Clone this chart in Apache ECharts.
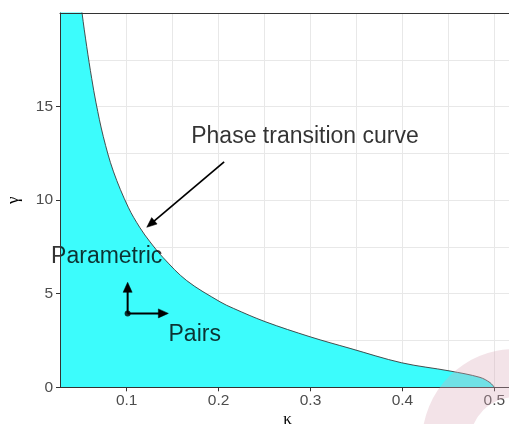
<!DOCTYPE html>
<html>
<head>
<meta charset="utf-8">
<script src="https://cdn.jsdelivr.net/npm/echarts@6/dist/echarts.min.js"></script>
<style>
  html, body { margin: 0; padding: 0; background: #ffffff; }
  #chart { width: 509px; height: 424px; }
</style>
</head>
<body>
<div id="chart"></div>
<script>
// Phase diagram in the (kappa, gamma) plane.
// Points along the phase transition curve (kappa, gamma); the first one lies
// just above the top of the panel, where the curve leaves the view.
const kappa = [0.0470, 0.0514, 0.0565, 0.0619, 0.0666, 0.0745, 0.0854, 0.1017, 0.1145, 0.1254, 0.1398, 0.1653, 0.2015, 0.2160, 0.2505, 0.2995, 0.3430, 0.3992, 0.4518, 0.4844, 0.4953, 0.5000];
const gamma = [21.90, 20.00, 18.20, 16.50, 15.20, 13.40, 11.55, 9.62, 8.52, 7.77, 6.92, 5.70, 4.57, 4.22, 3.51, 2.70, 2.08, 1.31, 0.87, 0.53, 0.25, 0.00];

// Panel limits
const xLimits = [0.0274, 0.5225];
const yLimits = [0, 20];

// Axis breaks
const xBreaks = [0.1, 0.2, 0.3, 0.4, 0.5];
const xMinorBreaks = [0.05, 0.15, 0.25, 0.35, 0.45];
const yBreaks = [0, 5, 10, 15];

// Text annotations: label, kappa, gamma
const noteText = ['Phase transition curve', 'Parametric', 'Pairs'];
const noteX = [0.294, 0.0782, 0.174];
const noteY = [13.40, 7.00, 2.82];

// Arrow pointing at the curve: [kappa0, gamma0, kappa1, gamma1]
const curveArrow = [[0.206, 12.05, 0.1218, 8.55]];
// Origin of the two direction arrows and their tips
const origin = [0.101, 3.95];
const dirArrows = [[0.101, 3.95, 0.101, 5.61], [0.101, 3.95, 0.1453, 3.95]];

const chart = echarts.init(document.getElementById('chart'), null, { renderer: 'canvas' });

// Region below the curve; closed on the left above the panel so the
// top-left corner is filled (the overflow is clipped away).
const areaData = [[xLimits[0], gamma[0]]].concat(kappa.map((k, i) => [k, gamma[i]]));

const FONT = 'Liberation Sans, Arial, Helvetica, sans-serif';
const GRID_COLOR = '#e8e8e8';
const BORDER = '#333333';

function arrowRenderer(lineWidth, headLen, headHalf) {
  return function (params, api) {
    const p0 = api.coord([api.value(0), api.value(1)]);
    const p1 = api.coord([api.value(2), api.value(3)]);
    const dx = p1[0] - p0[0], dy = p1[1] - p0[1];
    const len = Math.hypot(dx, dy) || 1;
    const ux = dx / len, uy = dy / len;
    const bx = p1[0] - ux * headLen, by = p1[1] - uy * headLen;
    return {
      type: 'group',
      children: [
        { type: 'line', shape: { x1: p0[0], y1: p0[1], x2: bx + ux * 2, y2: by + uy * 2 },
          style: { stroke: '#000', lineWidth: lineWidth } },
        { type: 'polygon', shape: { points: [[p1[0], p1[1]], [bx - uy * headHalf, by + ux * headHalf], [bx + uy * headHalf, by - ux * headHalf]] },
          style: { fill: '#000', stroke: '#000', lineWidth: 0.5 } }
      ]
    };
  };
}

const option = {
  animation: false,
  backgroundColor: '#ffffff',
  grid: { left: 60, top: 13, right: -6, bottom: 36.7, show: false, containLabel: false, outerBoundsMode: 'none' },
  xAxis: [
    {
      type: 'value', min: xLimits[0], max: xLimits[1], position: 'bottom',
      axisLine: { show: false },
      axisTick: { show: true, customValues: xBreaks, length: 4, lineStyle: { color: BORDER, width: 1 } },
      axisLabel: { customValues: xBreaks, formatter: v => v.toFixed(1), color: '#4d4d4d', fontSize: 15.5, fontFamily: FONT, margin: 5 },
      splitLine: { show: true, lineStyle: { color: GRID_COLOR, width: 1 } },
      name: 'κ', nameLocation: 'middle', nameGap: 24, nameMoveOverlap: false,
      nameTextStyle: { fontFamily: 'Liberation Serif, DejaVu Serif, serif', fontSize: 17, color: '#000' }
    },
    {
      type: 'value', min: xLimits[0], max: xLimits[1], position: 'bottom',
      axisLine: { show: false },
      axisTick: { show: false, customValues: xMinorBreaks },
      axisLabel: { show: false, customValues: xMinorBreaks },
      splitLine: { show: true, lineStyle: { color: GRID_COLOR, width: 1 } }
    },
    {
      type: 'value', min: xLimits[0], max: xLimits[1], position: 'top', z: 10,
      axisLine: { show: true, lineStyle: { color: BORDER, width: 1 } },
      axisTick: { show: false }, axisLabel: { show: false }, splitLine: { show: false }
    },
    {
      type: 'value', min: xLimits[0], max: xLimits[1], position: 'bottom', z: 10,
      axisLine: { show: true, lineStyle: { color: BORDER, width: 1 } },
      axisTick: { show: false }, axisLabel: { show: false }, splitLine: { show: false }
    }
  ],
  yAxis: [
    {
      type: 'value', min: yLimits[0], max: yLimits[1], interval: 5, position: 'left',
      axisLine: { show: false },
      axisTick: { show: true, customValues: yBreaks, length: 4, lineStyle: { color: BORDER, width: 1 } },
      axisLabel: { customValues: yBreaks, color: '#4d4d4d', fontSize: 15.5, fontFamily: FONT, margin: 7 },
      splitLine: { show: true, lineStyle: { color: GRID_COLOR, width: 1 } },
      minorTick: { show: false, splitNumber: 2 },
      minorSplitLine: { show: true, lineStyle: { color: GRID_COLOR, width: 1 } },
      name: 'γ', nameLocation: 'middle', nameGap: 38, nameRotate: 90, nameMoveOverlap: false,
      nameTextStyle: { fontFamily: 'Liberation Serif, DejaVu Serif, serif', fontSize: 17, color: '#000' }
    },
    {
      type: 'value', min: yLimits[0], max: yLimits[1], position: 'left', z: 10,
      axisLine: { show: true, lineStyle: { color: BORDER, width: 1 } },
      axisTick: { show: false }, axisLabel: { show: false }, splitLine: { show: false }
    }
  ],
  series: [
    {
      name: 'curve', type: 'line', xAxisIndex: 0, yAxisIndex: 0,
      data: areaData, showSymbol: false, symbol: 'none',
      smooth: 0.35, clip: true,
      lineStyle: { color: '#3a3a3a', width: 0.9 },
      areaStyle: { color: '#3cfcfc', opacity: 1, origin: 'start' },
      z: 2
    },
    {
      name: 'curve arrow', type: 'custom', xAxisIndex: 0, yAxisIndex: 0,
      renderItem: arrowRenderer(1.7, 10, 4.2), data: curveArrow, z: 5, clip: false
    },
    {
      name: 'direction arrows', type: 'custom', xAxisIndex: 0, yAxisIndex: 0,
      renderItem: arrowRenderer(2, 10, 4.5), data: dirArrows, z: 5, clip: false
    },
    {
      name: 'origin', type: 'scatter', xAxisIndex: 0, yAxisIndex: 0,
      data: [origin], symbolSize: 6, itemStyle: { color: '#000' }, z: 6
    },
    {
      name: 'notes', type: 'scatter', xAxisIndex: 0, yAxisIndex: 0,
      data: noteText.map((t, i) => ({ name: t, value: [noteX[i], noteY[i]] })),
      symbolSize: 0, z: 7,
      label: {
        show: true, position: 'inside', formatter: p => p.name,
        fontFamily: FONT, fontSize: 23, color: '#000'
      }
    }
  ],
  graphic: [
    {
      // faint pink ring in the lower right corner
      type: 'ring', z: 100, silent: true,
      shape: { cx: 515, cy: 442, r: 93, r0: 45 },
      style: { fill: 'rgba(219,171,186,0.33)' }
    }
  ]
};

chart.setOption(option);
</script>
</body>
</html>
